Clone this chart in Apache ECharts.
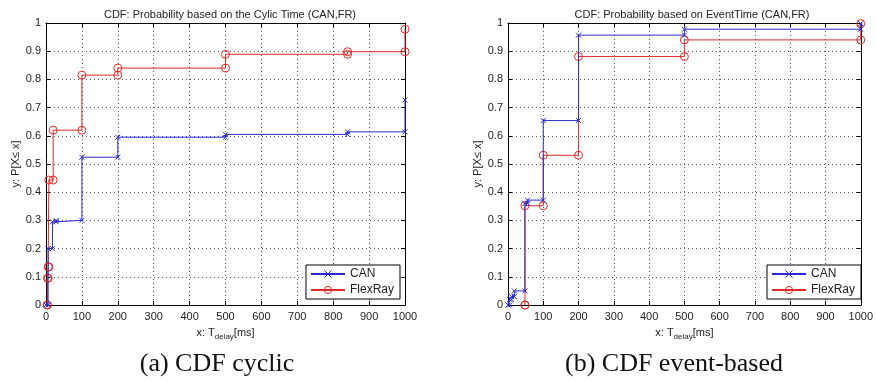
<!DOCTYPE html>
<html>
<head>
<meta charset="utf-8">
<script src="https://cdn.jsdelivr.net/npm/echarts@6/dist/echarts.min.js"></script>
<style>
html,body{margin:0;padding:0;background:#fff;}
#c{width:876px;height:383px;}
</style>
</head>
<body>
<div id="c"></div>
<script>
// ---- data (stairs: start point, then each jump x and level after jump) ----
var canCycX = [0, 6, 18, 28, 100, 200, 500, 840, 1000];
var canCycY = [0, 0.2, 0.295, 0.3, 0.524, 0.595, 0.605, 0.614, 0.727];
var frCycX  = [4, 4, 6, 8, 20, 100, 200, 500, 840, 1000];
var frCycY  = [0, 0.095, 0.135, 0.443, 0.62, 0.815, 0.84, 0.889, 0.898, 0.978];
var canEvtX = [0, 5, 10, 18, 48, 55, 100, 200, 500, 1000];
var canEvtY = [0, 0.02, 0.03, 0.05, 0.36, 0.372, 0.654, 0.957, 0.978, 0.998];
var frEvtX  = [48, 48, 100, 200, 500, 1000];
var frEvtY  = [0, 0.352, 0.531, 0.881, 0.94, 0.998];
var xTicks = [0, 100, 200, 300, 400, 500, 600, 700, 800, 900, 1000];
var yTicks = [0, 0.1, 0.2, 0.3, 0.4, 0.5, 0.6, 0.7, 0.8, 0.9, 1];
var titles = ['CDF: Probability based on the Cylic Time (CAN,FR)', 'CDF: Probability based on EventTime (CAN,FR)'];
var captions = ['(a) CDF cyclic', '(b) CDF event-based'];
var seriesNames = ['CAN', 'FlexRay'];

function stairs(xs, ys) {
  var pts = [[xs[0], ys[0]]];
  for (var i = 1; i < xs.length; i++) {
    pts.push([xs[i], ys[i - 1]]);
    pts.push([xs[i], ys[i]]);
  }
  return pts;
}

var BLUE = '#2a2ad0', RED = '#e02a2a';
var crossPath = 'path://M0,0L10,10M10,0L0,10';
var font = 'Liberation Sans, Arial, sans-serif';

var grids = [
  {left: 46, right: 471, top: 23, bottom: 78},
  {left: 508, right: 10, top: 23, bottom: 78}
];

function mainX(gi) {
  return {
    type: 'value', gridIndex: gi, min: xTicks[0], max: xTicks[xTicks.length - 1], interval: 100,
    position: 'bottom',
    axisLine: {show: true, onZero: false, lineStyle: {color: '#000', width: 1}},
    axisTick: {show: true, inside: true, length: 4, lineStyle: {color: '#000'}},
    axisLabel: {color: '#222', fontSize: 11, fontFamily: font, margin: 6,
      formatter: function (v) { return String(v); }},
    splitLine: {show: true, lineStyle: {color: '#555', type: [1, 3], width: 1}},
    name: 'x: T{s|delay}[ms]', nameLocation: 'middle', nameGap: 20,
    nameTextStyle: {color: '#222', fontSize: 11, fontFamily: font,
      rich: {s: {fontSize: 8, fontFamily: font, color: '#222', padding: [8, 0, 0, 0]}}}
  };
}
function topX(gi) {
  return {
    type: 'value', gridIndex: gi, min: 0, max: 1000, interval: 100, position: 'top',
    axisLine: {show: true, onZero: false, lineStyle: {color: '#000'}},
    axisTick: {show: true, inside: true, length: 4, lineStyle: {color: '#000'}},
    axisLabel: {show: false}, splitLine: {show: false}
  };
}
function mainY(gi) {
  return {
    type: 'value', gridIndex: gi, min: yTicks[0], max: yTicks[yTicks.length - 1], interval: 0.1, position: 'left',
    axisLine: {show: true, onZero: false, lineStyle: {color: '#000', width: 1}},
    axisTick: {show: true, inside: true, length: 4, lineStyle: {color: '#000'}},
    axisLabel: {color: '#222', fontSize: 11, fontFamily: font, margin: 5},
    splitLine: {show: true, lineStyle: {color: '#555', type: [1, 3], width: 1}},
    name: 'y: P[X\u2264 x]', nameLocation: 'middle', nameGap: 17, nameRotate: 90,
    nameTextStyle: {color: '#222', fontSize: 11, fontFamily: font}
  };
}
function rightY(gi) {
  return {
    type: 'value', gridIndex: gi, min: 0, max: 1, interval: 0.1, position: 'right',
    axisLine: {show: true, onZero: false, lineStyle: {color: '#000'}},
    axisTick: {show: true, inside: true, length: 4, lineStyle: {color: '#000'}},
    axisLabel: {show: false}, splitLine: {show: false}
  };
}

function canSeries(gi, xs, ys) {
  return {
    name: seriesNames[0], type: 'line', xAxisIndex: gi, yAxisIndex: gi,
    data: stairs(xs, ys), clip: false, animation: false,
    symbol: crossPath, symbolSize: 5, showAllSymbol: true,
    lineStyle: {color: BLUE, width: 1},
    itemStyle: {color: 'rgba(0,0,0,0)', borderColor: BLUE, borderWidth: 1},
    z: 3
  };
}
function frSeries(gi, xs, ys) {
  return {
    name: seriesNames[1], type: 'line', xAxisIndex: gi, yAxisIndex: gi,
    data: stairs(xs, ys), clip: false, animation: false,
    symbol: 'circle', symbolSize: 8, showAllSymbol: true,
    lineStyle: {color: RED, width: 1},
    itemStyle: {color: 'rgba(0,0,0,0)', borderColor: RED, borderWidth: 1},
    z: 2
  };
}

function legendFor(gi, right) {
  return {
    show: true, orient: 'vertical', right: right, bottom: 84,
    backgroundColor: '#fff', borderColor: '#000', borderWidth: 1,
    padding: [3, 6, 3, 4], itemGap: 4, itemWidth: 34, itemHeight: 9,
    textStyle: {fontSize: 12, fontFamily: font, color: '#222'},
    data: [
      {name: seriesNames[0], itemStyle: {color: 'rgba(0,0,0,0)', borderColor: BLUE, borderWidth: 1}},
      {name: seriesNames[1], itemStyle: {color: 'rgba(0,0,0,0)', borderColor: RED, borderWidth: 1}}
    ],
    selectedMode: false
  };
}

var chart = echarts.init(document.getElementById('c'), null, {renderer: 'canvas'});
var option = {
  animation: false,
  backgroundColor: '#fff',
  title: [
    {text: titles[0], left: 225, top: 4, textAlign: 'center',
     textStyle: {fontSize: 11, fontWeight: 'normal', color: '#222', fontFamily: font}},
    {text: titles[1], left: 687, top: 4, textAlign: 'center',
     textStyle: {fontSize: 11, fontWeight: 'normal', color: '#222', fontFamily: font}}
  ],
  grid: grids.map(function (g) { return Object.assign({show: false, containLabel: false}, g); }),
  xAxis: [mainX(0), mainX(1), topX(0), topX(1)],
  yAxis: [mainY(0), mainY(1), rightY(0), rightY(1)],
  legend: [legendFor(0, 476), legendFor(1, 15)],
  series: [
    canSeries(0, canCycX, canCycY),
    frSeries(0, frCycX, frCycY),
    canSeries(1, canEvtX, canEvtY),
    frSeries(1, frEvtX, frEvtY)
  ],
  graphic: [
    {type: 'text', x: 217, y: 364, style: {text: captions[0], font: '26px "Liberation Serif", serif', fill: '#111', textAlign: 'center', textVerticalAlign: 'middle'}},
    {type: 'text', x: 674, y: 364, style: {text: captions[1], font: '26px "Liberation Serif", serif', fill: '#111', textAlign: 'center', textVerticalAlign: 'middle'}}
  ]
};
chart.setOption(option);
</script>
</body>
</html>
